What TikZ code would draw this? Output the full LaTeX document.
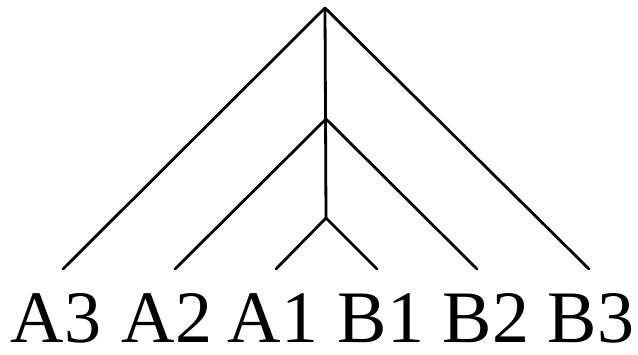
\documentclass[tikz,border=0pt]{standalone}
\usepackage{fontspec}
\setmainfont{Liberation Serif}
\begin{document}
\begin{tikzpicture}[x=1pt,y=-1pt,
  branch/.style={line width=2.8pt,line cap=round,line join=round},
  leaf/.style={anchor=base,inner sep=0pt,font=\fontsize{74}{74}\selectfont}]
\useasboundingbox (0,0) rectangle (638,354);
\coordinate (top) at (325,8);
\coordinate (mid) at (326,119);
\coordinate (low) at (326,218);
\coordinate (a3) at (63,269);
\coordinate (a2) at (175,269);
\coordinate (a1) at (276,269);
\coordinate (b1) at (377,269);
\coordinate (b2) at (477,269);
\coordinate (b3) at (589,269);
\draw[branch] (a3) -- (top) -- (b3);
\draw[branch] (top) -- (low);
\draw[branch] (a2) -- (mid) -- (b2);
\draw[branch] (a1) -- (low) -- (b1);
\node[leaf] (la3) at (56,342) {A3};
\node[leaf] (la2) at (167,342) {A2};
\node[leaf] (la1) at (273,342) {A1};
\node[leaf] (lb1) at (381,342) {B1};
\node[leaf] (lb2) at (486,342) {B2};
\node[leaf] (lb3) at (591,342) {B3};
\end{tikzpicture}
\end{document}
